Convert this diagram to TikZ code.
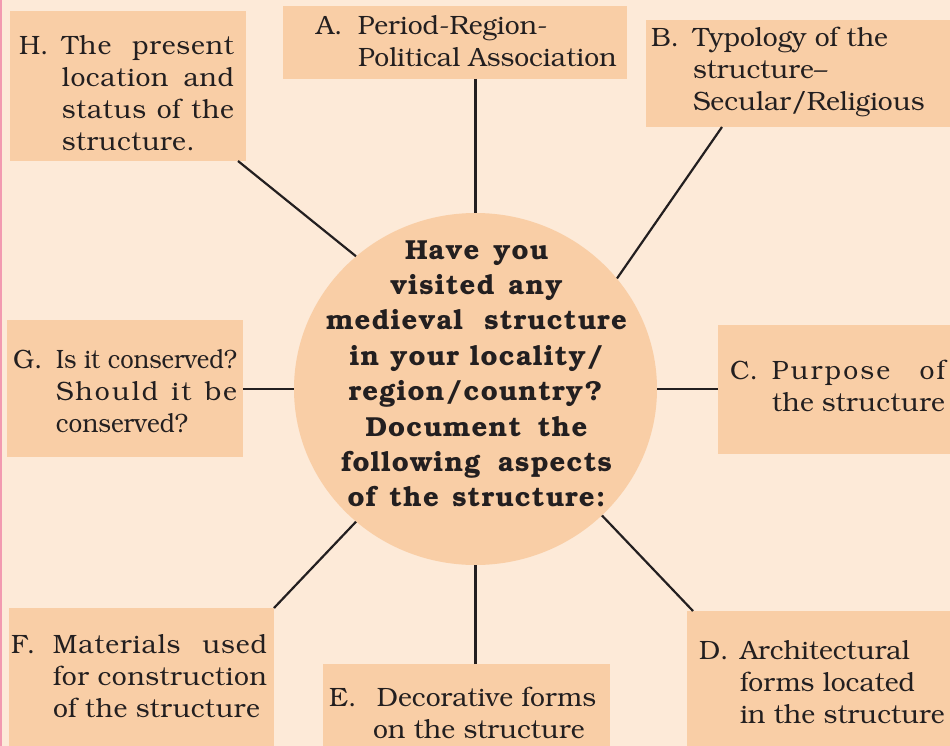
\documentclass[tikz,border=0pt]{standalone}
\usepackage[T1]{fontenc}
\usepackage{bookman}
\usepackage{graphicx}
\usetikzlibrary{shapes.geometric}
\definecolor{bgc}{HTML}{FDEAD8}
\definecolor{boxc}{HTML}{F9CEA6}
\definecolor{ink}{HTML}{231F20}
\definecolor{edgec}{HTML}{F29AB0}
\newcommand{\jline}[2]{\makebox[#1pt][s]{#2}}
\newcommand{\lab}[2]{\makebox[#1pt][l]{#2}}
\makeatletter
\newcommand{\ls}[2][1.5pt]{\@tfor\lsc:=#2\do{\lsc\kern#1}\unkern}
\makeatother
\begin{document}
\begin{tikzpicture}[x=1pt,y=-1pt,
  box/.style={fill=boxc, draw=none, inner sep=0, outer sep=0, anchor=north west},
  txt/.style={inner sep=0, outer sep=0, anchor=base west, text=ink, font=\fontsize{26.5}{32}\selectfont},
  ctxt/.style={inner sep=0, outer sep=0, anchor=base, text=ink, font=\fontsize{27.5}{35.4}\selectfont\bfseries},
  link/.style={draw=ink, line width=2.2pt}]
\fill[bgc] (0,0) rectangle (950,746);
\useasboundingbox (0,0) rectangle (950,746);
\fill[edgec] (0,0) rectangle (1.5,746);
% boxes
\node[box, minimum width=236, minimum height=150] (H) at (10,11) {};
\node[box, minimum width=344, minimum height=73] (A) at (283,6) {};
\node[box, minimum width=304, minimum height=107] (B) at (646,20) {};
\node[box, minimum width=236, minimum height=137] (G) at (7,320) {};
\node[box, minimum width=232, minimum height=129] (C) at (718,325) {};
\node[box, minimum width=265, minimum height=138] (F) at (9,608) {};
\node[box, minimum width=287, minimum height=82] (E) at (323,664) {};
\node[box, minimum width=263, minimum height=135] (D) at (687,611) {};
% centre
\node[ellipse, fill=boxc, inner sep=0, minimum width=363, minimum height=352] (Q) at (475.5,389) {};
% texts
\node[txt] (Ht) at (19,55) {\lab{43}{H.}\parbox[t]{172pt}{\raggedright
  \jline{172}{\ls[0.8pt]{The} \ls[0.8pt]{present}}\\
  \jline{172}{\ls[0.6pt]{location} \ls[0.6pt]{and}}\\
  \jline{172}{\ls[0.6pt]{status} \ls[0.6pt]{of} \ls[0.6pt]{the}}\\
  \ls[0.4pt]{structure.}}};
\node[txt] (At) at (316,35) {\lab{42}{A.}\parbox[t]{270pt}{\raggedright Period-Region-\\Political Association}};
\node[txt] (Bt) at (651,47) {\lab{42}{B.}\parbox[t]{250pt}{\raggedright Typology of the\\structure--\\Secular/Religious}};
\node[txt] (Gt) at (13,368) {\lab{43}{G.}\parbox[t]{181pt}{\raggedright
  \resizebox{181pt}{\height}{Is it conserved?}\\
  \jline{181}{\ls[2pt]{Should} \ls[2pt]{it} \ls[2pt]{be}}\\
  \resizebox{132pt}{\height}{conserved?}}};
\node[txt] (Ct) at (730,379) {\lab{42}{C.}\parbox[t]{173pt}{\raggedright
  \jline{173}{\ls[2.2pt]{Purpose} \ls[2pt]{of}}\\
  \ls[0.3pt]{the} \ls[0.3pt]{structure}}};
\node[txt] (Ft) at (11,653) {\lab{42}{F.}\parbox[t]{214pt}{\raggedright
  \jline{214}{\ls[0.9pt]{Materials} \ls[0.9pt]{used}}\\
  \jline{214}{\ls[0.5pt]{for} \ls[0.5pt]{construction}}\\
  \ls[0.4pt]{of} \ls[0.4pt]{the} \ls[0.4pt]{structure}}};
\node[txt] (Et) at (329,706) {\lab{44}{E.}\parbox[t]{240pt}{\raggedright \hspace*{4pt}Decorative forms\\on the structure}};
\node[txt] (Dt) at (699,659) {\lab{41}{D.}\parbox[t]{220pt}{\raggedright Architectural\\forms located\\in the structure}};
\node[ctxt] (Qt) at (476.5,259) {\parbox[t]{380pt}{\centering
  \jline{143}{\ls[1.2pt]{Have} \ls[1.2pt]{you}}\\
  \jline{172}{\ls[1.2pt]{visited} \ls[1.2pt]{any}}\\
  \jline{301}{\ls[1.2pt]{medieval} \ls[1.2pt]{structure}}\\
  \jline{254}{\ls[1.2pt]{in} \ls[1.2pt]{your} \ls[1.2pt]{locality/}}\\
  \jline{256}{\ls[1.2pt]{region/country?}}\\
  \jline{222}{\ls[1.2pt]{Document} \ls[1.2pt]{the}}\\
  \jline{271}{\ls[1.2pt]{following} \ls[1.2pt]{aspects}}\\
  \jline{258}{\ls[1.2pt]{of} \ls[1.2pt]{the} \ls[1.2pt]{structure:}}}};
% connectors
\draw[link] ([xshift=-8pt]H.south east) -- (Q.132.7);
\draw[link] (A.south -| Q.north) -- (Q.north);
\draw[link] ([xshift=76pt]B.south west) -- (Q.38.8);
\draw[link] (G.east |- Q.west) -- (Q.west);
\draw[link] (Q.east) -- (C.west |- Q.east);
\draw[link] (F.north east) -- (Q.228.4);
\draw[link] ([xshift=6pt]D.north west) -- (Q.-45.7);
\draw[link] (E.north -| Q.south) -- (Q.south);
\end{tikzpicture}
\end{document}
